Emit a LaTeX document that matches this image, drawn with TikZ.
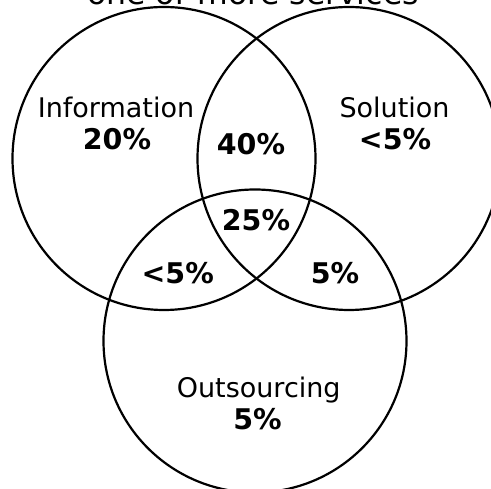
\documentclass[tikz,border=0pt]{standalone}
\usepackage{fontspec}
\setmainfont{DejaVu Sans}
\begin{document}
\begin{tikzpicture}[x=1pt,y=-1pt,
  venn/.style={circle,draw=black,line width=2.2pt,minimum size=303pt,inner sep=0pt,outer sep=0pt},
  lbl/.style={anchor=base,inner sep=0pt,font=\fontsize{27}{30}\selectfont},
  pct/.style={anchor=base,inner sep=0pt,font=\fontsize{28.5}{30}\selectfont\bfseries},
  ttl/.style={anchor=base,inner sep=0pt,font=\fontsize{31.5}{36}\selectfont}]
\useasboundingbox (0,0) rectangle (491,489);
\node[venn] (info) at (164,158.5) {};
\node[venn] (sol) at (349,158.5) {};
\node[venn] (out) at (255,341) {};
\node[ttl] (title) at (253,4.5) {one or more services};
\node[lbl] (infol) at (116,117.7) {Information};
\node[pct] (infop) at (117,150) {20\%};
\node[lbl] (soll) at (394.5,117.7) {Solution};
\node[pct] (solp) at (395,150) {<5\%};
\node[pct] (is) at (251,155) {40\%};
\node[pct] (all) at (256,231) {25\%};
\node[pct] (io) at (177.7,284) {<5\%};
\node[pct] (so) at (335,284) {5\%};
\node[lbl] (outl) at (258.7,398) {Outsourcing};
\node[pct] (outp) at (257.5,430) {5\%};
\end{tikzpicture}
\end{document}
